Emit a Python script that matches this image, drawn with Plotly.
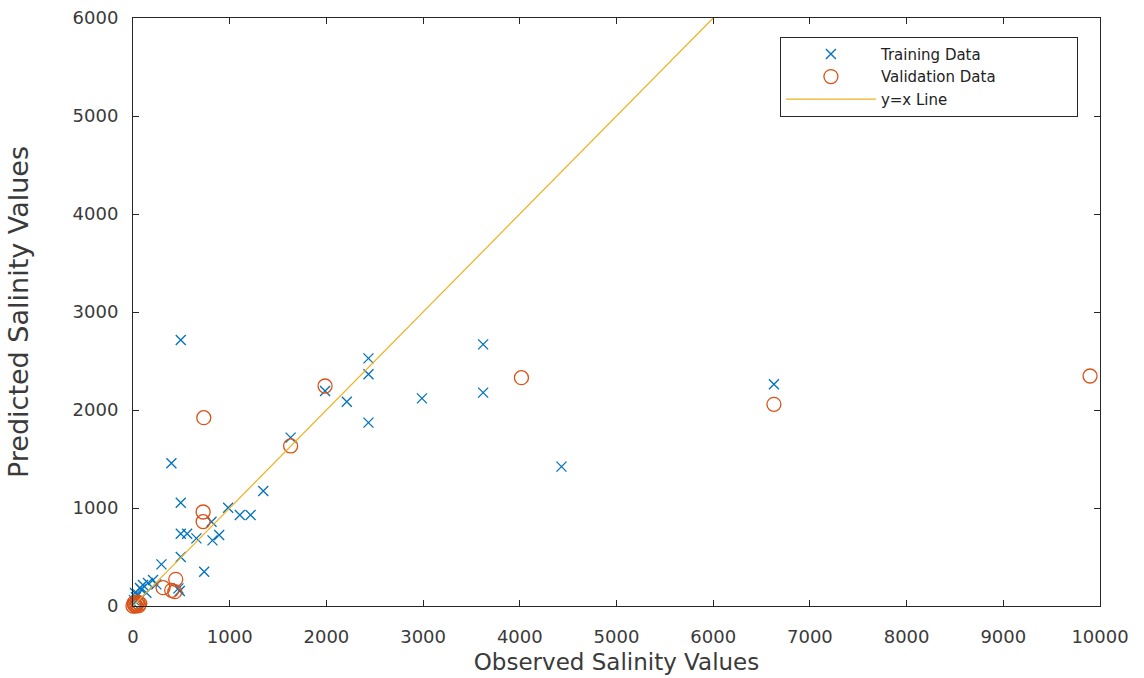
import plotly.graph_objects as go

# Training data (observed, predicted)
train_obs = [494, 2435, 2435, 1986, 2211, 2988, 2435, 1630, 397, 1347, 494, 984, 1105, 1216,
             494, 560, 656, 822, 891, 812, 494, 294, 736, 484, 138, 86, 52, 242, 3621, 3621,
             4431, 6628, 103, 155, 72, 207, 20, 10, 30, 5, 470]
train_pred = [2714, 2527, 2364, 2194, 2085, 2119, 1871, 1718, 1456, 1173, 1054, 1003, 929, 929,
              738, 738, 690, 670, 724, 860, 500, 425, 350, 153, 136, 170, 119, 221, 2670, 2177,
              1422, 2262, 214, 235, 184, 265, 133, 60, 90, 20, 180]

# Validation data (observed, predicted)
val_obs = [1986, 732, 1630, 725, 725, 442, 311, 432, 400, 4017, 6628, 9897,
           0, 20, 40, 10, 60, 30, 50, 15, 70]
val_pred = [2245, 1922, 1633, 959, 861, 272, 187, 146, 160, 2330, 2058, 2347,
            0, 10, 20, 30, 5, 0, 40, 15, 25]

# y = x reference line
line_x = [0, 6000]
line_y = [0, 6000]

x_ticks = [0, 1000, 2000, 3000, 4000, 5000, 6000, 7000, 8000, 9000, 10000]
y_ticks = [0, 1000, 2000, 3000, 4000, 5000, 6000]

FONT = "DejaVu Sans"
TXT = "#3a3a3a"
AX = "#262626"
NB = "\u00a0"

fig = go.Figure()
fig.add_trace(go.Scatter(
    x=train_obs, y=train_pred, mode="markers", name="Training Data",
    cliponaxis=False,
    marker=dict(symbol="x-thin-open", size=10, line=dict(color="#0072BD", width=1.3),
                color="#0072BD"),
))
fig.add_trace(go.Scatter(
    x=val_obs, y=val_pred, mode="markers", name="Validation Data" + NB * 16,
    cliponaxis=False,
    marker=dict(symbol="circle-open", size=14, line=dict(color="#D95319", width=1.3),
                color="#D95319"),
))
fig.add_trace(go.Scatter(
    x=line_x, y=line_y, mode="lines", name="y=x Line",
    line=dict(color="#EDB120", width=1.2),
))

axis_common = dict(
    showgrid=False, zeroline=False, showline=True, linecolor=AX, linewidth=1,
    mirror="ticks", ticks="inside", ticklen=6, tickcolor=AX, tickwidth=1,
    tickfont=dict(family=FONT, size=18, color=TXT), automargin=False,
)

fig.update_layout(
    width=1144, height=678,
    margin=dict(l=133, r=44, t=18, b=72),
    paper_bgcolor="white", plot_bgcolor="white",
    font=dict(family=FONT, color=TXT),
    xaxis=dict(range=[0, 10000], tickvals=x_ticks, ticktext=[str(v) for v in x_ticks],
               ticklabelstandoff=14,
               title=dict(text="Observed Salinity Values", font=dict(family=FONT, size=23, color=TXT),
                          standoff=8),
               **axis_common),
    yaxis=dict(range=[0, 6000], tickvals=y_ticks, ticktext=[str(v) for v in y_ticks],
               ticklabelstandoff=10,
               title=dict(text="Predicted Salinity Values", font=dict(family=FONT, size=27, color=TXT),
                          standoff=36),
               **axis_common),
    legend=dict(
        x=0.669, y=0.968, xanchor="left", yanchor="top",
        bgcolor="white", bordercolor=AX, borderwidth=1,
        font=dict(family=FONT, size=15, color="#222"),
        itemwidth=90, tracegroupgap=0,
    ),
    showlegend=True,
)

fig.write_html("out.html")
